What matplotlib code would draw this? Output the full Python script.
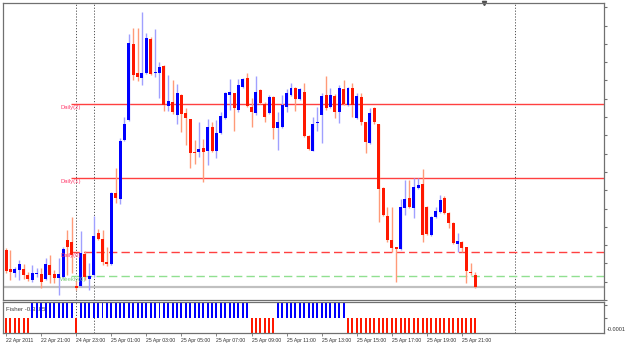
import matplotlib
matplotlib.use('Agg')
import matplotlib.pyplot as plt
from matplotlib.ticker import MultipleLocator

# M15 candles, values (price scale labels are cut off)
open_ = [50, 31, 27, 30, 31, 25, 20, 26, 26, 21, 35, 26, 22, 23, 60, 58,
         14, 14, 46, 21, 25, 67, 61, 38, 36, 107, 101, 160, 180, 256, 227, 222,
         227, 261, 227, 227, 234, 194, 198, 185, 205, 187, 181, 148, 148, 152, 149, 173,
         149, 167, 182, 205, 207, 190, 213, 222, 193, 187, 210, 196, 187, 203, 172, 173,
         193, 205, 212, 201, 208, 164, 149, 177, 185, 205, 193, 204, 188, 211, 195, 212,
         182, 203, 178, 157, 192, 176, 112, 84, 60, 53, 51, 92, 102, 92, 112, 116,
         93, 65, 83, 88, 102, 87, 77, 56, 58, 53, 28, 25]
high = [52, 50, 33, 40, 36, 28, 35, 32, 32, 42, 45, 30, 42, 53, 70, 83,
        20, 69, 49, 37, 84, 71, 70, 53, 108, 132, 162, 183, 266, 272, 272, 288,
        267, 263, 271, 238, 235, 225, 220, 216, 206, 192, 181, 160, 178, 161, 181, 178,
        180, 188, 208, 221, 207, 221, 222, 227, 202, 224, 211, 198, 205, 204, 188, 205,
        211, 217, 213, 212, 217, 165, 183, 193, 207, 224, 212, 206, 215, 220, 213, 217,
        207, 207, 178, 192, 193, 176, 113, 93, 93, 53, 101, 120, 120, 122, 122, 131,
        94, 84, 93, 105, 104, 88, 78, 67, 59, 53, 37, 28]
low = [27, 20, 23, 20, 21, 19, 18, 23, 12, 20, 17, 17, 5, 22, 25, 27,
       10, 13, 20, 10, 23, 60, 35, 34, 35, 97, 96, 159, 179, 220, 219, 215,
       226, 225, 223, 202, 189, 189, 186, 176, 168, 155, 132, 136, 143, 118, 135, 148,
       142, 166, 181, 190, 169, 188, 212, 193, 173, 185, 196, 178, 186, 161, 150, 172,
       188, 204, 189, 200, 163, 150, 149, 169, 157, 190, 192, 182, 177, 195, 194, 183,
       181, 175, 147, 156, 176, 78, 84, 58, 48, 18, 50, 85, 92, 82, 111, 58,
       65, 64, 82, 87, 86, 72, 56, 48, 48, 17, 25, 12]
close = [29, 28, 31, 36, 25, 21, 27, 27, 18, 36, 25, 22, 26, 51, 53, 45,
         12, 47, 23, 24, 64, 61, 38, 36, 107, 102, 159, 176, 257, 225, 223, 227,
         262, 226, 228, 233, 195, 199, 188, 207, 186, 182, 147, 147, 151, 148, 173, 149,
         167, 184, 207, 208, 192, 215, 221, 194, 188, 208, 197, 183, 203, 172, 178, 195,
         207, 212, 201, 211, 164, 151, 176, 178, 204, 192, 205, 188, 212, 196, 212, 195,
         204, 178, 158, 187, 178, 111, 85, 60, 52, 51, 93, 101, 93, 113, 115, 65,
         66, 83, 89, 100, 87, 77, 57, 59, 52, 29, 27, 13]

# Fisher signal histogram: +1 blue, -1 red
fisher = ([-1] * 6 + [1] * 10 + [-1] + [1] * 39 + [-1] * 6 + [1] * 16 + [-1] * 30)

# pivot style levels
levels = {'Daily(2)': 196, 'Daily(1)': 122, 'Daily(0)': 48, 'Weekly(0)': 24}
level_styles = {
    'Daily(2)': ('#ff4040', '-', '#ff4070'),
    'Daily(1)': ('#ff4040', '-', '#ff4070'),
    'Daily(0)': ('#ff4040', (0, (6, 3)), '#ff4070'),
    'Weekly(0)': ('#90e090', (0, (6, 3)), '#80d080'),
}

time_labels = ['22 Apr 2011', '22 Apr 21:00', '24 Apr 23:00', '25 Apr 01:00',
               '25 Apr 03:00', '25 Apr 05:00', '25 Apr 07:00', '25 Apr 09:00',
               '25 Apr 11:00', '25 Apr 13:00', '25 Apr 15:00', '25 Apr 17:00',
               '25 Apr 19:00', '25 Apr 21:00']
separators = [16, 20, 116]

BULL, BEAR = '#0000ff', '#ff1800'
BULL_WICK, BEAR_WICK = '#a0a0ff', '#ff9a78'
FRAME = '#707070'

plt.rcParams['font.family'] = ['Liberation Sans', 'DejaVu Sans']

fig = plt.figure(figsize=(6.25, 3.45), dpi=100)
ax = fig.add_axes([3 / 625, 45 / 345, 601 / 625, 297 / 345])
ax2 = fig.add_axes([3 / 625, 12 / 345, 601 / 625, 31 / 345], sharex=ax)

n = len(close)
xs = list(range(n))

# candles
for i in xs:
    up = close[i] >= open_[i]
    ax.vlines(i, low[i], high[i], color=BULL_WICK if up else BEAR_WICK,
              lw=1.0, zorder=2)
    lo, hi = min(open_[i], close[i]), max(open_[i], close[i])
    ax.bar(i, max(hi - lo, 1.2), bottom=lo, width=0.68,
           color=BULL if up else BEAR, lw=0, zorder=3)

# levels
start = 15
for name, val in levels.items():
    c, ls, tc = level_styles[name]
    ax.hlines(val, start - 0.3, 140, color=c, lw=1.0, linestyles=ls, zorder=1)
    ax.text(12.4, val - 1.5, name, color=tc, fontsize=4.2, va='top', ha='left',
            zorder=4)

# bid line
ax.axhline(close[-1], color='#c0c0c0', lw=1.6, zorder=1)

# period separators
for s in separators:
    for a in (ax, ax2):
        a.axvline(s, color='#505050', lw=0.7, ls=(0, (1.2, 1.8)), zorder=0)

# chart shift marker
ax.plot([109], [1.0], marker='v', ms=3, color='#505050',
        transform=ax.get_xaxis_transform(), clip_on=False)

ax.set_ylim(0, 297)
ax.set_xlim(-0.7, 136.4)
ax.yaxis.tick_right()
ax.yaxis.set_major_locator(MultipleLocator(18.3))
ax.tick_params(axis='y', length=2, width=0.8, color=FRAME, labelright=False)
ax.tick_params(axis='x', bottom=False, labelbottom=False)

# indicator
cols = [BULL if v > 0 else BEAR for v in fisher]
ax2.bar(xs, fisher, width=0.45, color=cols, lw=0, zorder=2)
ax2.set_ylim(-1, 1)
ax2.yaxis.tick_right()
ax2.set_yticks([0.8, 0.0])
ax2.tick_params(axis='y', length=2, width=0.8, color=FRAME, labelright=False)
ax2.text(1.005, 0.1, '-0.0001', transform=ax2.transAxes, fontsize=4,
         color='#303030', va='center', ha='left')
ax2.text(-0.1, 0.5, 'Fisher -0.3185', fontsize=4.4, color='#404040',
         va='center', ha='left', zorder=1)

ax2.set_xticks(range(0, n, 8))
ax2.set_xticklabels(time_labels, fontsize=3.7, color='#303030', ha='left')
ax2.tick_params(axis='x', length=2, width=0.6, color=FRAME, pad=1.5)

for a in (ax, ax2):
    for sp in a.spines.values():
        sp.set_color(FRAME)
        sp.set_linewidth(0.9)

fig.savefig('out.png', dpi=100)
